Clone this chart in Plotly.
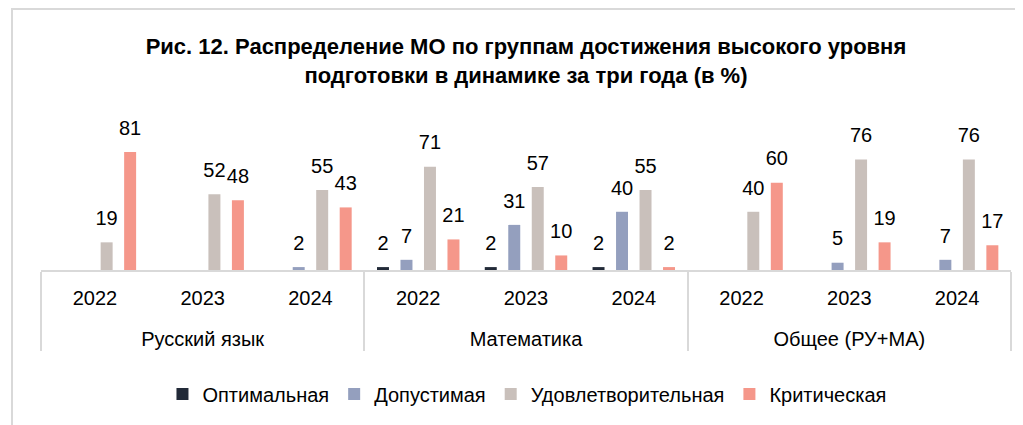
import plotly.graph_objects as go

subjects = ["Русский язык", "Математика", "Общее (РУ+МА)"]
years = ["2022", "2023", "2024"]

series_names = ["Оптимальная", "Допустимая", "Удовлетворительная", "Критическая"]
optimal = [0, 0, 0, 2, 2, 2, 0, 0, 0]
acceptable = [0, 0, 2, 7, 31, 40, 0, 5, 7]
satisfactory = [19, 52, 55, 71, 57, 55, 40, 76, 76]
critical = [81, 48, 43, 21, 10, 2, 60, 19, 17]
colors = ["#222a38", "#949fbe", "#c9c0bb", "#f5978a"]

x_outer = ["<br>" + s for s in subjects for _ in years]
x_inner = [y for _ in subjects for y in years]

FONT = "Liberation Sans Narrow, Arial Narrow, Liberation Sans, Arial, sans-serif"
GAP = 0.128

fig = go.Figure()
all_series = [optimal, acceptable, satisfactory, critical]
for i, (name, vals, col) in enumerate(zip(series_names, all_series, colors)):
    fig.add_trace(go.Bar(
        name=name,
        x=[x_outer, x_inner],
        y=vals,
        offsetgroup=str(i),
        marker=dict(color=col, line=dict(width=0)),
        hoverinfo="skip",
    ))
for i, (name, vals) in enumerate(zip(series_names, all_series)):
    fig.add_trace(go.Scatter(
        name=name + " labels",
        x=[x_outer, x_inner],
        y=vals,
        offsetgroup=str(i),
        mode="markers+text",
        marker=dict(size=18, color="rgba(0,0,0,0)"),
        text=[str(v) if v else "" for v in vals],
        textposition="top center",
        textfont=dict(family=FONT, size=20, color="#000000"),
        cliponaxis=False,
        showlegend=False,
        hoverinfo="skip",
    ))

fig.update_layout(
    width=1015, height=417,
    margin=dict(l=33, r=12, t=131, b=155, autoexpand=False),
    paper_bgcolor="white", plot_bgcolor="white",
    barmode="group", bargap=GAP, bargroupgap=0.49,
    scattermode="group", scattergap=GAP,
    font=dict(family=FONT, size=20, color="#000000"),
    title=dict(
        text="<b>Рис. 12. Распределение МО по группам достижения высокого уровня<br>подготовки в динамике за три года (в %)</b>",
        x=0.5103, xanchor="center", y=0.8897, yanchor="top", yref="container",
        font=dict(family=FONT, size=22, color="#000000"),
    ),
    legend=dict(
        orientation="h", x=0.5113, xanchor="center", xref="container",
        y=0.0743, yanchor="middle", yref="container",
        font=dict(family=FONT, size=20, color="#000000"),
        bgcolor="rgba(0,0,0,0)",
    ),
    showlegend=True,
)
fig.update_xaxes(
    type="multicategory", automargin=False,
    showline=True, linecolor="#d9d9d9", linewidth=2,
    showdividers=True, dividercolor="#d9d9d9", dividerwidth=2,
    ticks="", showgrid=False, ticklabelstandoff=9,
    tickfont=dict(family=FONT, size=20, color="#000000"),
)
fig.update_yaxes(range=[0, 90], visible=False, showgrid=False, zeroline=False)

fig.add_shape(type="rect", xref="paper", yref="paper",
              x0=-0.0299, x1=1.03, y0=-1.3, y1=1.992,
              line=dict(color="#d9d9d9", width=2), fillcolor="rgba(0,0,0,0)", layer="above")

fig.write_html("out.html")
